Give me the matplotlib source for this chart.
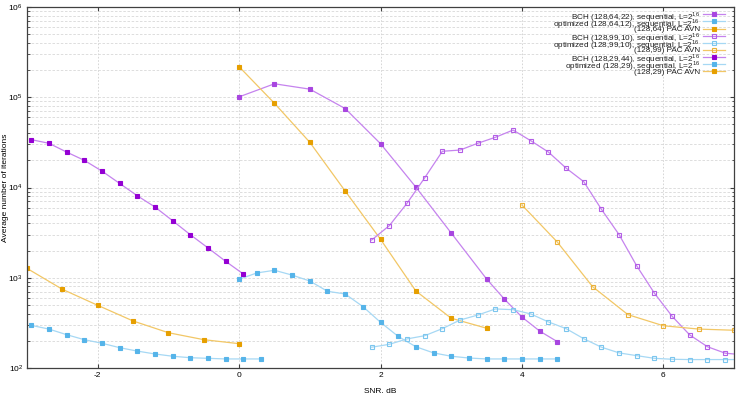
import matplotlib
matplotlib.use("Agg")
import matplotlib.pyplot as plt
from matplotlib.lines import Line2D
from matplotlib.ticker import LogLocator, FixedLocator, NullFormatter

plt.rcParams['font.family'] = ['Liberation Sans', 'DejaVu Sans']
plt.rcParams['axes.unicode_minus'] = False
plt.rcParams['mathtext.fontset'] = 'custom'
plt.rcParams['mathtext.rm'] = 'Liberation Sans'

# ---- data ----
bch64_x = [0, 0.5, 1, 1.5, 2, 2.5, 3, 3.5, 3.75, 4, 4.25, 4.5]
bch64_y = [1.01e5, 1.41e5, 1.23e5, 7.5e4, 3.06e4, 1.01e4, 3.13e3, 970, 582, 367, 257, 196]

opt64_x = [0, 0.25, 0.5, 0.75, 1, 1.25, 1.5, 1.75, 2, 2.25, 2.5, 2.75, 3, 3.25, 3.5, 3.75, 4, 4.25, 4.5]
opt64_y = [962, 1130, 1210, 1070, 920, 708, 661, 480, 321, 224, 172, 147, 135, 129, 126, 126, 126, 126, 126]

pac64_x = [0, 0.5, 1, 1.5, 2, 2.5, 3, 3.5]
pac64_y = [2.18e5, 8.57e4, 3.17e4, 9.14e3, 2.67e3, 713, 356, 276]

bch99_x = [1.875, 2.125, 2.375, 2.625, 2.875, 3.125, 3.375, 3.625, 3.875, 4.125, 4.375,
           4.625, 4.875, 5.125, 5.375, 5.625, 5.875, 6.125, 6.375, 6.625, 6.875, 7.125]
bch99_y = [2620, 3780, 6680, 12800, 25200, 26000, 30900, 36000, 43300, 33000, 24700,
           16400, 11600, 5730, 3000, 1350, 673, 374, 232, 172, 146, 140]

opt99_x = [1.875, 2.125, 2.375, 2.625, 2.875, 3.125, 3.375, 3.625, 3.875, 4.125, 4.375,
           4.625, 4.875, 5.125, 5.375, 5.625, 5.875, 6.125, 6.375, 6.625, 6.875, 7.125]
opt99_y = [170, 183, 210, 228, 273, 340, 386, 451, 443, 397, 324,
           273, 211, 170, 147, 137, 128, 125, 124, 124, 124, 124]

pac99_x = [4, 4.5, 5, 5.5, 6, 6.5, 7]
pac99_y = [6400, 2490, 796, 390, 294, 270, 262]

bch29_x = [-2.94, -2.69, -2.44, -2.19, -1.94, -1.69, -1.44, -1.19, -0.94, -0.69, -0.44, -0.19, 0.06]
bch29_y = [33900, 30900, 24700, 20000, 15200, 11100, 8100, 6080, 4280, 3000, 2140, 1520, 1100]

opt29_x = [-2.94, -2.69, -2.44, -2.19, -1.94, -1.69, -1.44, -1.19, -0.94, -0.69, -0.44, -0.19, 0.06, 0.31]
opt29_y = [297, 270, 234, 206, 188, 168, 154, 143, 135, 130, 128, 126, 126, 126]

pac29_x = [-3, -2.5, -2, -1.5, -1, -0.5, 0]
pac29_y = [1270, 745, 495, 332, 246, 206, 186]

labels = [
    r'BCH (128,64,22), sequential, L=2$^{16}$',
    r'optimized (128,64,12), sequential, L=2$^{16}$',
    '(128,64) PAC AVN',
    r'BCH (128,99,10), sequential, L=2$^{16}$',
    r'optimized (128,99,10), sequential, L=2$^{16}$',
    '(128,99) PAC AVN',
    r'BCH (128,29,44), sequential, L=2$^{16}$',
    r'optimized (128,29), sequential, L=2$^{16}$',
    '(128,29) PAC AVN',
]
x_ticks = [-2, 0, 2, 4, 6]

PURPLE, BLUE, ORANGE = '#9400d3', '#56b4e9', '#e69f00'
LPURPLE, LBLUE, LORANGE = '#c583ee', '#a6d8f4', '#f2c766'

W, H = 747, 393
fig = plt.figure(figsize=(W / 100, H / 100), dpi=100)
ax = fig.add_axes([27 / W, 1 - 368 / H, (734 - 27) / W, (368 - 7) / H])

series = [
    (bch64_x, bch64_y, LPURPLE, '#a846e0', 2.4, True),
    (opt64_x, opt64_y, LBLUE, BLUE, 2.4, True),
    (pac64_x, pac64_y, LORANGE, ORANGE, 2.4, True),
    (bch99_x, bch99_y, LPURPLE, '#b35ee6', 3.3, False),
    (opt99_x, opt99_y, LBLUE, '#7cc6ee', 3.3, False),
    (pac99_x, pac99_y, LORANGE, '#ebb23a', 3.3, False),
    (bch29_x, bch29_y, LPURPLE, PURPLE, 3.3, True),
    (opt29_x, opt29_y, LBLUE, BLUE, 3.3, True),
    (pac29_x, pac29_y, LORANGE, ORANGE, 3.3, True),
]
for i, ((x, y, lc, mc, ms, filled), lab) in enumerate(zip(series, labels)):
    style = dict(color=lc, lw=0.9, marker='s', ms=ms,
                 mfc=mc if filled else 'none', mec=mc, mew=0.8)
    ax.plot(x, y, **style)
    # legend entry (drawn manually for tight gnuplot-like spacing)
    ypx = 14.3 + 7.1 * i
    yf = 1 - ypx / H
    fig.add_artist(Line2D([703 / W, 725 / W], [yf, yf], transform=fig.transFigure,
                          color=lc, lw=0.9))
    fig.add_artist(Line2D([714 / W], [yf], transform=fig.transFigure, marker='s',
                          ms=ms, mfc=mc if filled else 'none', mec=mc, mew=0.8,
                          color=lc, lw=0))
    fig.text(700 / W, yf, lab, ha='right', va='center_baseline', fontsize=5.9,
             color='#202020')

ax.set_yscale('log')
ax.set_xlim(-3, 7)
ax.set_ylim(100, 1e6)
ax.xaxis.set_major_locator(FixedLocator(x_ticks))
ax.yaxis.set_major_locator(LogLocator(base=10, numticks=10))
ax.yaxis.set_minor_locator(LogLocator(base=10, subs=range(2, 10), numticks=20))
ax.yaxis.set_minor_formatter(NullFormatter())

ax.grid(True, which='major', axis='x', color='#d0d0d0', lw=0.6, ls=(0, (2, 2)))
ax.grid(True, which='both', axis='y', color='#d8d8d8', lw=0.6, ls=(0, (3, 2)))
ax.set_axisbelow(True)

ax.tick_params(axis='both', which='both', direction='in', top=True, right=True,
               labelsize=6, color='#404040', pad=3)
ax.tick_params(which='major', length=3)
ax.tick_params(which='minor', length=1.8)
for s in ax.spines.values():
    s.set_color('#404040')
    s.set_linewidth(0.9)

ax.set_xlabel('SNR, dB', fontsize=6, labelpad=6)
ax.set_ylabel('Average number of iterations', fontsize=6)
ax.yaxis.set_label_coords(-0.026, 0.5)

fig.savefig('out.png', dpi=100)
